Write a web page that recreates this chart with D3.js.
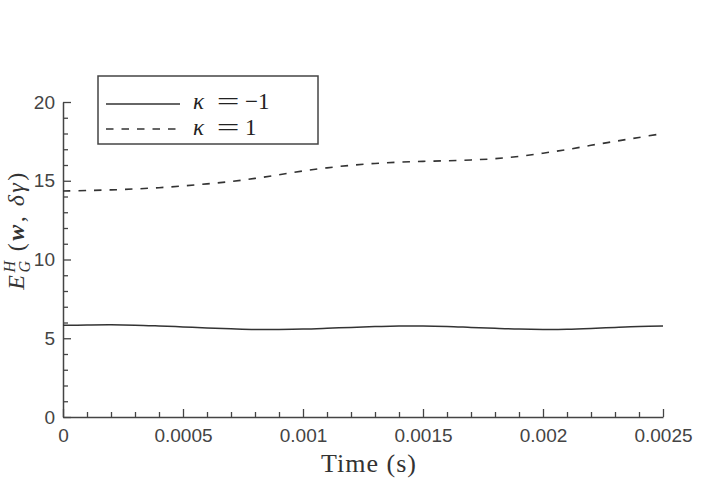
<!DOCTYPE html>
<html>
<head>
<meta charset="utf-8">
<script src="https://cdn.jsdelivr.net/npm/d3@7"></script>
<style>
body { margin: 0; background: #fff; }
svg { display: block; }
</style>
</head>
<body>
<svg width="709" height="483"></svg>
<script>
// time samples (s)
var timeVals = [0, 0.0001, 0.0002, 0.0003, 0.0004, 0.0005, 0.0006, 0.0007, 0.0008, 0.0009,
  0.001, 0.0011, 0.0012, 0.0013, 0.0014, 0.0015, 0.0016, 0.0017, 0.0018, 0.0019,
  0.002, 0.0021, 0.0022, 0.0023, 0.0024, 0.0025];
// kappa = -1 (solid)
var kappaNeg = [5.82, 5.84, 5.85, 5.83, 5.78, 5.72, 5.65, 5.60, 5.56, 5.56,
  5.58, 5.63, 5.69, 5.74, 5.77, 5.78, 5.75, 5.69, 5.63, 5.58,
  5.56, 5.57, 5.62, 5.69, 5.75, 5.78];
// kappa = 1 (dashed)
var kappaPos = [14.35, 14.38, 14.42, 14.48, 14.56, 14.67, 14.80, 14.95, 15.15, 15.38,
  15.62, 15.82, 15.98, 16.10, 16.18, 16.23, 16.27, 16.32, 16.40, 16.55,
  16.75, 16.98, 17.25, 17.50, 17.75, 18.00];
var xTicks = [0, 0.0005, 0.001, 0.0015, 0.002, 0.0025];
var xTickLabels = ["0", "0.0005", "0.001", "0.0015", "0.002", "0.0025"];
var xMinor = [0.0001, 0.0002, 0.0003, 0.0004, 0.0006, 0.0007, 0.0008, 0.0009,
  0.0011, 0.0012, 0.0013, 0.0014, 0.0016, 0.0017, 0.0018, 0.0019,
  0.0021, 0.0022, 0.0023, 0.0024];
var yTicks = [0, 5, 10, 15, 20];
var yMinor = [1, 2, 3, 4, 6, 7, 8, 9, 11, 12, 13, 14, 16, 17, 18, 19];
var legendVals = ["\u22121", "1"];

var svg = d3.select("svg");
var axisCol = "#444", lineCol = "#333";
var serif = "Liberation Serif, DejaVu Serif, serif";

var x = d3.scaleLinear().domain([0, 0.0025]).range([63, 663]);
var y = d3.scaleLinear().domain([0, 20]).range([417, 102]);

// minor ticks
svg.append("g")
  .attr("transform", "translate(0,417)")
  .call(d3.axisBottom(x).tickValues(xMinor).tickSize(-5).tickSizeOuter(0).tickFormat(""))
  .call(function(g){ g.select(".domain").remove(); });
svg.append("g")
  .attr("transform", "translate(63,0)")
  .call(d3.axisLeft(y).tickValues(yMinor).tickSize(-5).tickSizeOuter(0).tickFormat(""))
  .call(function(g){ g.select(".domain").remove(); });

svg.append("g")
  .attr("transform", "translate(0,417)")
  .call(d3.axisBottom(x).tickValues(xTicks).tickSizeInner(-8).tickSizeOuter(0).tickPadding(12)
    .tickFormat(function(d, i){ return xTickLabels[i]; }));
svg.append("g")
  .attr("transform", "translate(63,0)")
  .call(d3.axisLeft(y).tickValues(yTicks).tickSizeInner(-8).tickSizeOuter(0).tickPadding(8));

svg.selectAll(".tick line").attr("stroke", axisCol).attr("stroke-width", 1.3);
svg.selectAll(".domain").attr("stroke", axisCol).attr("stroke-width", 1.5);
svg.selectAll(".tick text")
  .attr("fill", "#444")
  .attr("font-family", "Liberation Sans, Arial, sans-serif")
  .attr("font-size", "19px");

var line = d3.line().curve(d3.curveCatmullRom);

svg.append("path")
  .attr("d", line(timeVals.map(function(t, i){ return [x(t), y(kappaNeg[i])]; })))
  .attr("fill", "none").attr("stroke", lineCol).attr("stroke-width", 1.5);

svg.append("path")
  .attr("d", line(timeVals.map(function(t, i){ return [x(t), y(kappaPos[i])]; })))
  .attr("fill", "none").attr("stroke", lineCol).attr("stroke-width", 1.6)
  .attr("stroke-dasharray", "7.5,8");

// legend
var leg = svg.append("g");
leg.append("rect").attr("x", 98).attr("y", 76).attr("width", 220).attr("height", 68)
  .attr("fill", "#fff").attr("stroke", axisCol).attr("stroke-width", 1.5);
var rows = [{y: 104, base: 109, dash: null}, {y: 129, base: 135, dash: "7.5,8"}];
rows.forEach(function(r, i){
  leg.append("line").attr("x1", 106).attr("x2", 180).attr("y1", r.y).attr("y2", r.y)
    .attr("stroke", lineCol).attr("stroke-width", 1.5).attr("stroke-dasharray", r.dash);
  leg.append("text").attr("x", 193).attr("y", r.base)
    .attr("font-family", serif).attr("font-size", "23px").attr("fill", "#222")
    .attr("font-style", "italic").text("\u03ba");
  leg.append("text").attr("x", 228).attr("y", r.base).attr("text-anchor", "middle")
    .attr("font-family", serif).attr("font-size", "23px").attr("fill", "#222")
    .attr("transform", "translate(228,0) scale(1.75,1) translate(-228,0)")
    .text("=");
  leg.append("text").attr("x", 245).attr("y", r.base)
    .attr("font-family", serif).attr("font-size", "23px").attr("fill", "#222")
    .text(legendVals[i]);
});

// axis titles
svg.append("text")
  .attr("x", 369).attr("y", 472)
  .attr("text-anchor", "middle")
  .attr("font-family", serif)
  .attr("font-size", "26px").attr("letter-spacing", "1px").attr("fill", "#333")
  .text("Time (s)");

var yl = svg.append("text")
  .attr("transform", "translate(24,230) rotate(-90)")
  .attr("text-anchor", "middle")
  .attr("font-family", serif)
  .attr("font-size", "24px").attr("letter-spacing", "2.5px").attr("fill", "#333");
yl.append("tspan").attr("font-style", "italic").text("E");
yl.append("tspan").attr("font-style", "italic").attr("font-size", "16px").attr("dy", -9).text("H");
yl.append("tspan").attr("font-style", "italic").attr("font-size", "16px").attr("dx", -14).attr("dy", 15).text("G");
yl.append("tspan").attr("dy", -6).text("\u2009(");
yl.append("tspan").attr("font-style", "italic").attr("font-weight", "bold").text("w");
yl.append("tspan").text(",\u2009");
yl.append("tspan").attr("font-style", "italic").text("\u03b4\u03b3");
yl.append("tspan").text(")");
</script>
</body>
</html>
